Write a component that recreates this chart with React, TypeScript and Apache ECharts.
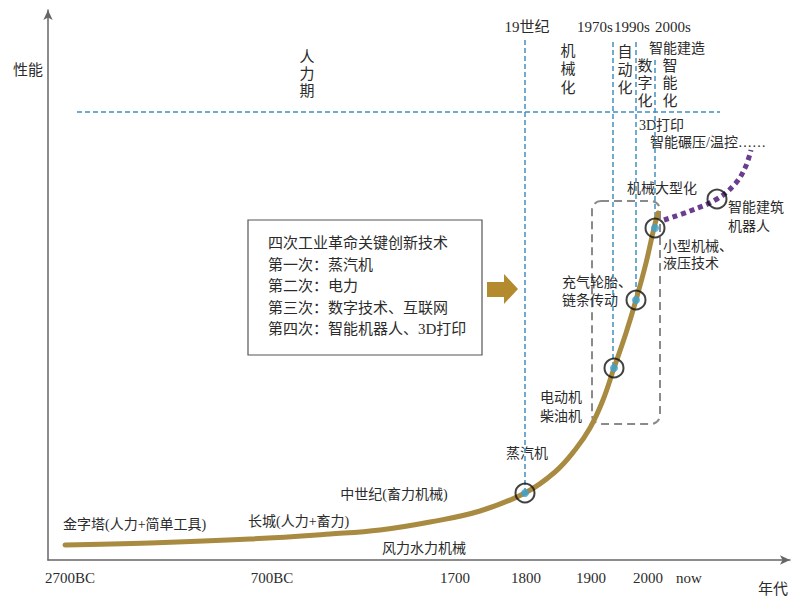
import React, { useEffect, useRef } from "react";
import * as echarts from "echarts";

// Timeline position (horizontal, non-linear era scale) and performance level
const X_TICK_POS = [22, 224, 407, 478, 543, 600, 641];
const X_TICK_LABELS = ["2700BC", "700BC", "1700", "1800", "1900", "2000", "now"];

// Main performance curve (gold)
const CURVE_X = [17, 102, 202, 282, 332, 382, 432, 477, 507, 527, 542, 555, 566, 578, 588, 598, 606, 610];
const CURVE_Y = [15, 17, 21, 26, 30, 38, 49, 67, 88, 110, 132, 160, 192, 227, 260, 297, 332, 347];

// Future trend (purple dotted)
const FUTURE_X = [616, 642, 669, 687, 697, 703];
const FUTURE_Y = [340, 349, 361, 376, 392, 410];

// Milestone points (rings), first four have blue dots
const MILESTONE_X = [477, 566, 588, 607, 669];
const MILESTONE_Y = [67, 192, 260, 332, 361];
const DOT_COUNT = 4;

// Era guide lines: x position, top level
const GUIDE_X = [477, 565, 588, 607];
const GUIDE_TOP = [520, 518, 518, 500];
const GUIDE_BOTTOM = [67, 192, 260, 332];

// Horizontal level line
const LEVEL_Y = 448;
const LEVEL_FROM = 29;
const LEVEL_TO = 672;

const GOLD = "#a88a40";
const BLUE = "#3f90c0";
const PURPLE = "#6a3d8e";
const TXT = "#2b2b2b";
const FONT = '"Liberation Serif", "Noto Sans CJK SC", serif';

function txt(x: number, y: number, text: string, size = 14, align = "center", lineHeight?: number) {
  return {
    type: "text",
    x,
    y,
    silent: true,
    style: {
      text,
      fill: TXT,
      font: `${size}px ${FONT}`,
      align,
      verticalAlign: "middle",
      lineHeight: lineHeight || size + 4,
    },
  };
}

export default function App() {
  const ref = useRef<HTMLDivElement>(null);
  useEffect(() => {
    if (!ref.current) return;
    const chart = echarts.init(ref.current, null, { renderer: "svg" });

    const guideSeries = GUIDE_X.map((gx, i) => ({
      type: "line",
      data: [
        [gx, GUIDE_TOP[i]],
        [gx, GUIDE_BOTTOM[i]],
      ],
      symbol: "none",
      lineStyle: { color: BLUE, width: 1.5, type: [5, 3] },
      z: 1,
      silent: true,
    }));

    const option: any = {
      animation: false,
      backgroundColor: "#fff",
      grid: { left: 48, right: 10, top: 10, bottom: 41 },
      xAxis: {
        type: "value",
        min: 0,
        max: 742,
        splitLine: { show: false },
        axisTick: { show: false },
        axisLine: {
          lineStyle: { color: "#666", width: 1.5 },
          symbol: ["none", "arrow"],
          symbolSize: [7, 10],
        },
        axisLabel: {
          customValues: X_TICK_POS,
          formatter: (v: number) => {
            const i = X_TICK_POS.indexOf(Math.round(v));
            return i >= 0 ? X_TICK_LABELS[i] : "";
          },
          color: TXT,
          fontFamily: FONT,
          fontSize: 15,
          margin: 10,
        },
      },
      yAxis: {
        type: "value",
        min: 0,
        max: 550,
        splitLine: { show: false },
        axisTick: { show: false },
        axisLabel: { show: false },
        axisLine: {
          show: true,
          lineStyle: { color: "#666", width: 1.5 },
          symbol: ["none", "arrow"],
          symbolSize: [7, 10],
        },
      },
      series: [
        ...guideSeries,
        {
          type: "line",
          data: [
            [LEVEL_FROM, LEVEL_Y],
            [LEVEL_TO, LEVEL_Y],
          ],
          symbol: "none",
          lineStyle: { color: BLUE, width: 1.3, type: [5, 3] },
          z: 1,
          silent: true,
        },
        {
          type: "line",
          data: CURVE_X.map((x, i) => [x, CURVE_Y[i]]),
          smooth: 0.4,
          symbol: "none",
          lineStyle: { color: GOLD, width: 5, cap: "round" },
          z: 3,
        },
        {
          type: "line",
          data: FUTURE_X.map((x, i) => [x, FUTURE_Y[i]]),
          smooth: 0.4,
          symbol: "none",
          lineStyle: { color: PURPLE, width: 5, type: [5, 4] },
          z: 3,
        },
        {
          type: "scatter",
          data: MILESTONE_X.slice(0, DOT_COUNT).map((x, i) => [x, MILESTONE_Y[i]]),
          symbol: "circle",
          symbolSize: 8,
          itemStyle: { color: "#3aa2d2" },
          z: 5,
        },
        {
          type: "scatter",
          data: MILESTONE_X.map((x, i) => [x, MILESTONE_Y[i]]),
          symbol: "circle",
          symbolSize: 19,
          itemStyle: { color: "rgba(0,0,0,0)", borderColor: "#111", borderWidth: 2 },
          z: 6,
        },
      ],
      graphic: [
        // dashed rounded box around the modern period
        {
          type: "rect",
          shape: { x: 592, y: 201, width: 68, height: 223, r: 9 },
          style: { fill: "none", stroke: "#8a8a8a", lineWidth: 2, lineDash: [8, 5] },
          silent: true,
          z: 0,
        },
        // legend box
        {
          type: "rect",
          shape: { x: 248, y: 220, width: 234, height: 135 },
          style: { fill: "#fff", stroke: "#555", lineWidth: 1.2 },
          silent: true,
        },
        {
          type: "text",
          x: 268,
          y: 286,
          style: {
            text: "四次工业革命关键创新技术\n第一次：蒸汽机\n第二次：电力\n第三次：数字技术、互联网\n第四次：智能机器人、3D打印",
            fill: TXT,
            font: `15px ${FONT}`,
            align: "left",
            verticalAlign: "middle",
            lineHeight: 21.5,
          },
        },
        // arrow
        {
          type: "polygon",
          shape: {
            points: [
              [487, 282],
              [504, 282],
              [504, 274],
              [518, 289],
              [504, 304],
              [504, 297],
              [487, 297],
            ],
          },
          style: { fill: "#b38a2e" },
          silent: true,
        },
        txt(28, 70, "性能", 15),
        txt(773, 589, "年代", 15),
        txt(307, 74, "人\n力\n期", 15, "center", 17),
        txt(527, 27, "19世纪", 15),
        txt(595, 27, "1970s", 15),
        txt(632, 27, "1990s", 15),
        txt(673, 27, "2000s", 15),
        txt(568, 69, "机\n械\n化", 15, "center", 18.5),
        txt(625, 70, "自\n动\n化", 15, "center", 18),
        txt(677, 48, "智能建造", 14),
        txt(645, 83, "数\n字\n化", 15, "center", 17.5),
        txt(670, 83, "智\n能\n化", 15, "center", 17.5),
        txt(639, 125, "3D打印", 14, "left"),
        txt(650, 142, "智能碾压/温控……", 14, "left"),
        txt(662, 188, "机械大型化", 14),
        txt(728, 217, "智能建筑\n机器人", 14, "left", 19),
        txt(663, 255, "小型机械、\n液压技术", 14, "left", 17.5),
        txt(562, 291, "充气轮胎、\n链条传动", 14, "left", 18),
        txt(540, 407, "电动机\n柴油机", 14, "left", 19),
        txt(527, 453, "蒸汽机", 14),
        txt(394, 494, "中世纪(畜力机械)", 14),
        txt(63, 524, "金字塔(人力+简单工具)", 14, "left"),
        txt(248, 521, "长城(人力+畜力)", 14, "left"),
        txt(382, 548, "风力水力机械", 14, "left"),
      ],
    };
    chart.setOption(option);
    return () => chart.dispose();
  }, []);
  return (
    <div
      ref={ref}
      style={{ position: "fixed", left: 0, top: 0, width: 800, height: 601, background: "#fff" }}
    />
  );
}
